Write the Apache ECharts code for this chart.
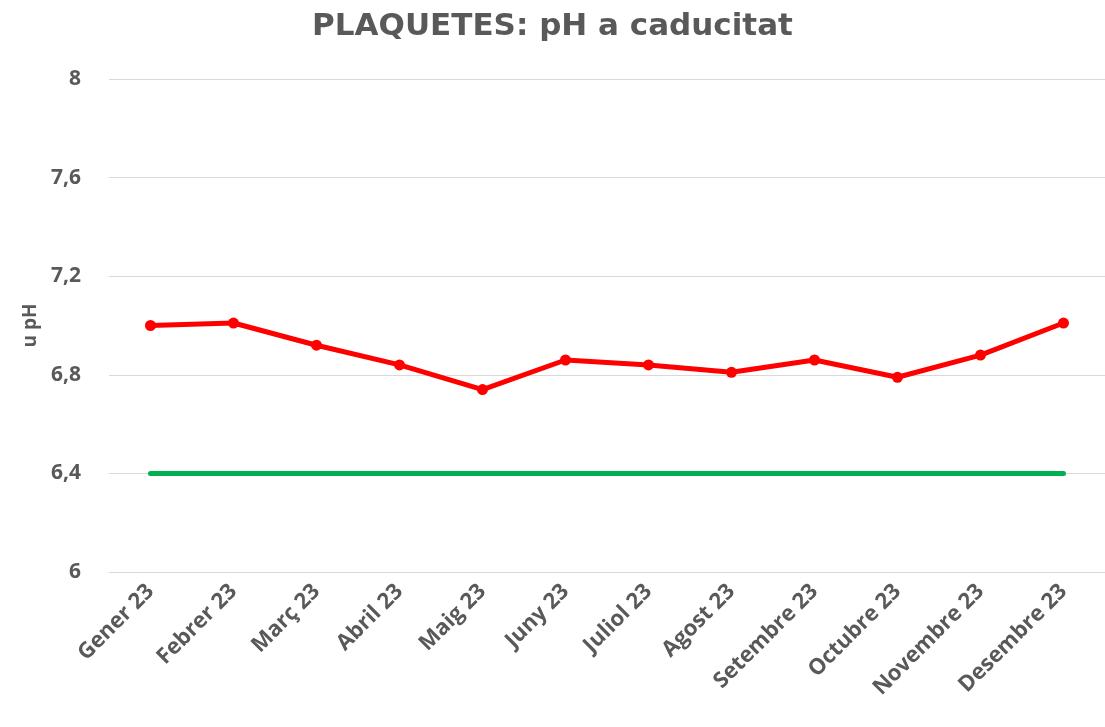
<!DOCTYPE html>
<html>
<head>
<meta charset="utf-8">
<script src="https://cdn.jsdelivr.net/npm/echarts@6/dist/echarts.min.js"></script>
<style>
  html, body { margin: 0; padding: 0; background: #fff; }
  #main { width: 1105px; height: 727px; }
</style>
</head>
<body>
<div id="main"></div>
<script>
// dades
const months = ['Gener 23', 'Febrer 23', 'Març 23', 'Abril 23', 'Maig 23', 'Juny 23',
  'Juliol 23', 'Agost 23', 'Setembre 23', 'Octubre 23', 'Novembre 23', 'Desembre 23'];
const phValues = [7.00, 7.01, 6.92, 6.84, 6.74, 6.86, 6.84, 6.81, 6.86, 6.79, 6.88, 7.01];
const phLimit = [6.4, 6.4, 6.4, 6.4, 6.4, 6.4, 6.4, 6.4, 6.4, 6.4, 6.4, 6.4];

const labelColor = '#595959';
const chart = echarts.init(document.getElementById('main'));
chart.setOption({
  animation: false,
  title: {
    text: 'PLAQUETES: pH a caducitat',
    left: 'center',
    top: 6,
    textStyle: { fontFamily: 'DejaVu Sans', fontWeight: 'bold', fontSize: 31, color: labelColor }
  },
  grid: { left: 109, right: 0, top: 79, bottom: 155 },
  xAxis: {
    type: 'category',
    data: months,
    boundaryGap: true,
    axisLine: { show: false },
    axisTick: { show: false },
    axisLabel: {
      rotate: 45,
      interval: 0,
      margin: 16,
      fontFamily: 'Open Sans',
      fontWeight: 'bold',
      fontSize: 22,
      color: labelColor
    }
  },
  yAxis: {
    type: 'value',
    min: 6,
    max: 8,
    interval: 0.4,
    name: 'u pH',
    nameLocation: 'middle',
    nameGap: 68,
    nameRotate: 90,
    nameTextStyle: { fontFamily: 'Open Sans', fontWeight: 'bold', fontSize: 19, color: labelColor },
    axisLine: { show: false },
    axisTick: { show: false },
    splitLine: { lineStyle: { color: '#d9d9d9', width: 1 } },
    axisLabel: {
      margin: 28,
      fontFamily: 'Open Sans',
      fontWeight: 'bold',
      fontSize: 21,
      color: labelColor,
      formatter: v => String(Math.round(v * 10) / 10).replace('.', ',')
    }
  },
  series: [
    {
      name: 'Límit',
      type: 'line',
      data: phLimit,
      symbol: 'none',
      lineStyle: { color: '#00B050', width: 5, cap: 'round' },
      z: 2
    },
    {
      name: 'pH',
      type: 'line',
      data: phValues,
      symbol: 'circle',
      symbolSize: 11,
      itemStyle: { color: '#FF0000' },
      lineStyle: { color: '#FF0000', width: 5, cap: 'round', join: 'round' },
      z: 3
    }
  ]
});
</script>
</body>
</html>
